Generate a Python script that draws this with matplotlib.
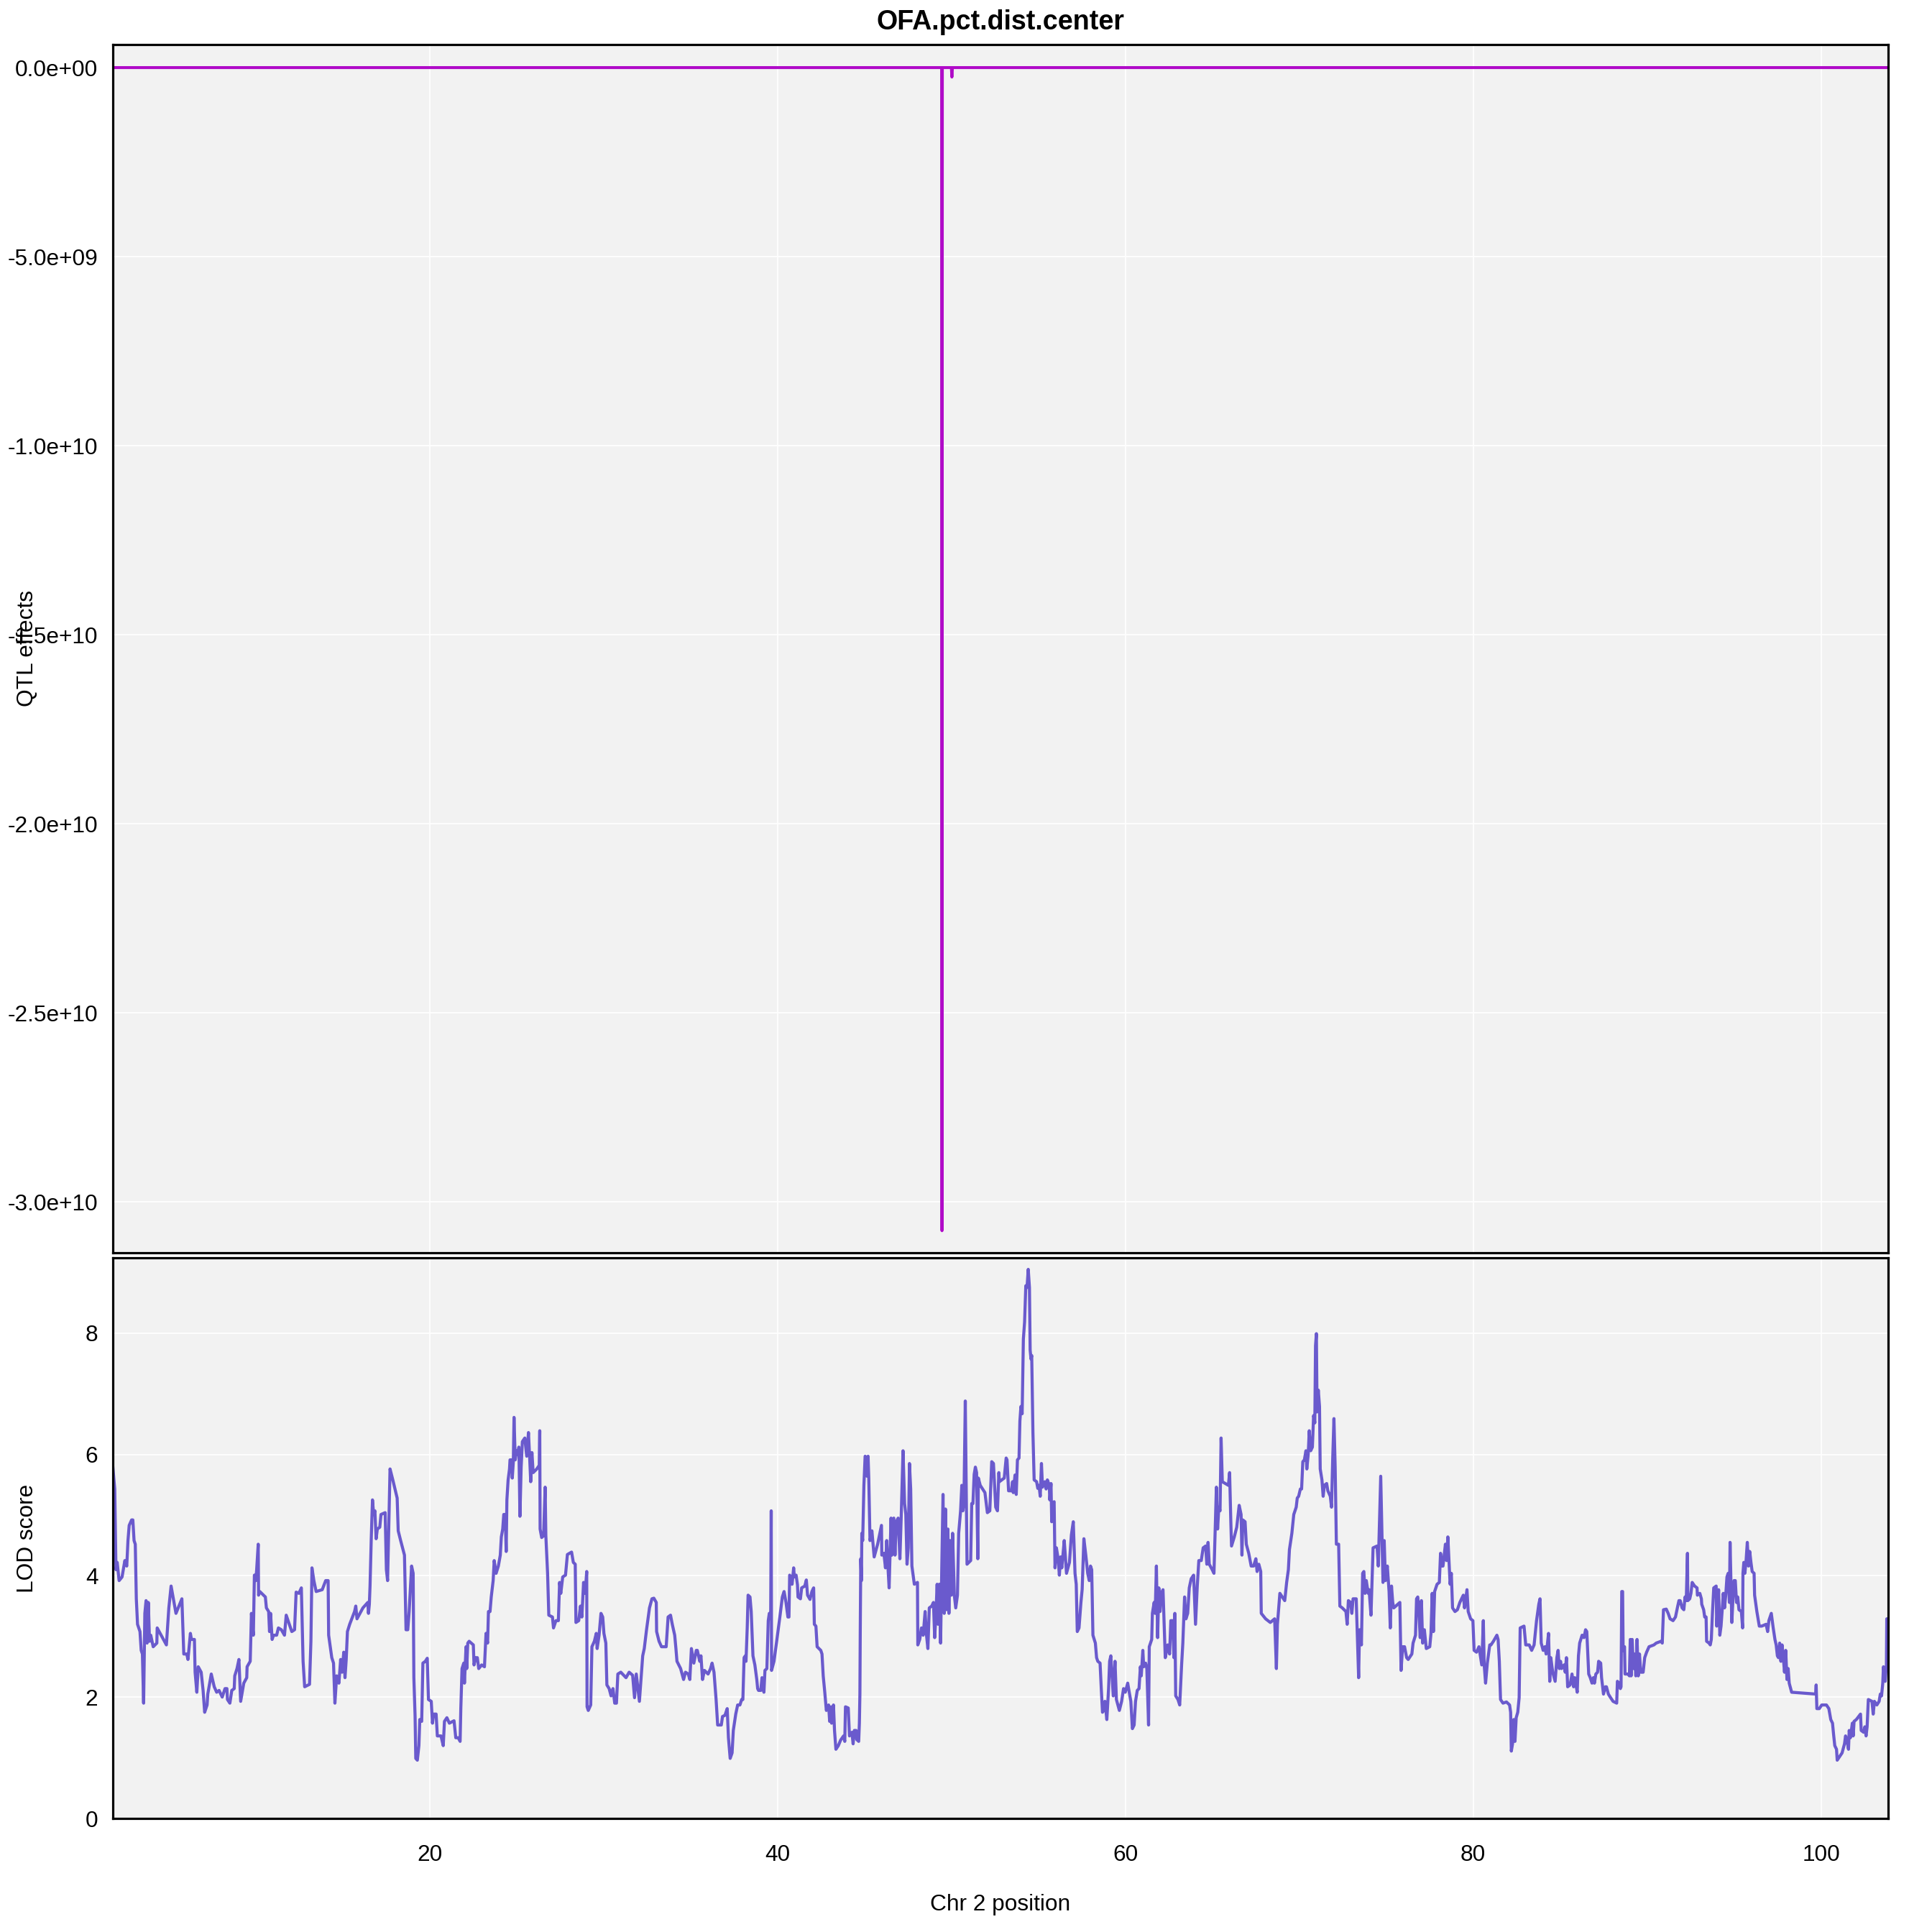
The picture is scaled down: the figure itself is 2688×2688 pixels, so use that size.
import matplotlib
matplotlib.use("Agg")
import matplotlib.pyplot as plt
from matplotlib.ticker import FuncFormatter

plt.rcParams["font.family"] = ["Liberation Sans", "DejaVu Sans"]

# LOD profile along chr 2 (cM, LOD)
pos = [
    1.77, 1.88, 1.95, 2.02, 2.13, 2.30, 2.46, 2.57, 2.64, 2.71, 2.85, 2.92, 2.99, 3.06, 3.12, 3.19, 3.33, 3.40,
    3.47, 3.54, 3.61, 3.68, 3.74, 3.81, 3.88, 3.95, 4.09, 4.30, 4.32, 4.85, 4.99, 5.12, 5.40, 5.74, 5.85, 6.02,
    6.09, 6.23, 6.29, 6.46, 6.50, 6.60, 6.68, 6.85, 6.96, 7.05, 7.19, 7.23, 7.43, 7.60, 7.74, 7.88, 8.06, 8.22,
    8.33, 8.36, 8.50, 8.61, 8.75, 8.78, 8.91, 9.02, 9.12, 9.30, 9.47, 9.49, 9.67, 9.71, 9.74, 9.85, 9.91, 9.99,
    10.04, 10.13, 10.15, 10.22, 10.54, 10.60, 10.73, 10.78, 10.84, 10.93, 11.01, 11.19, 11.29, 11.46, 11.64,
    11.74, 11.92, 12.06, 12.22, 12.31, 12.47, 12.61, 12.71, 12.80, 13.08, 13.16, 13.22, 13.33, 13.46, 13.81,
    14.01, 14.15, 14.18, 14.36, 14.46, 14.54, 14.64, 14.77, 14.87, 14.95, 15.05, 15.12, 15.19, 15.26, 15.39,
    15.67, 15.74, 15.81, 16.15, 16.43, 16.47, 16.52, 16.56, 16.63, 16.70, 16.77, 16.84, 16.91, 16.98, 17.12,
    17.19, 17.43, 17.50, 17.57, 17.71, 17.87, 18.12, 18.18, 18.32, 18.54, 18.63, 18.73, 18.81, 18.95, 19.04,
    19.08, 19.15, 19.19, 19.28, 19.37, 19.42, 19.53, 19.60, 19.74, 19.85, 19.92, 20.08, 20.15, 20.22, 20.36,
    20.43, 20.64, 20.77, 20.84, 20.98, 21.12, 21.39, 21.49, 21.63, 21.74, 21.78, 21.85, 21.95, 21.99, 22.08,
    22.12, 22.18, 22.26, 22.50, 22.54, 22.63, 22.73, 22.81, 22.98, 23.14, 23.23, 23.32, 23.37, 23.46, 23.53,
    23.64, 23.70, 23.81, 23.94, 24.05, 24.11, 24.19, 24.25, 24.33, 24.39, 24.43, 24.50, 24.58, 24.61, 24.70,
    24.74, 24.80, 24.84, 24.91, 24.98, 25.05, 25.12, 25.18, 25.25, 25.32, 25.46, 25.57, 25.67, 25.74, 25.80,
    25.87, 25.94, 26.15, 26.29, 26.32, 26.34, 26.43, 26.54, 26.63, 26.67, 26.77, 26.84, 27.05, 27.11, 27.25,
    27.39, 27.46, 27.53, 27.64, 27.80, 27.91, 28.15, 28.25, 28.36, 28.40, 28.56, 28.66, 28.74, 28.84, 28.93,
    29.02, 29.04, 29.11, 29.25, 29.32, 29.46, 29.57, 29.62, 29.73, 29.84, 29.94, 30.01, 30.12, 30.18, 30.31,
    30.42, 30.53, 30.63, 30.73, 30.81, 30.98, 31.18, 31.28, 31.46, 31.66, 31.77, 31.87, 32.05, 32.15, 32.24,
    32.33, 32.46, 32.63, 32.77, 32.88, 33.02, 33.04, 33.18, 33.32, 33.59, 33.70, 33.84, 33.94, 34.08, 34.15,
    34.21, 34.42, 34.59, 34.70, 34.86, 34.95, 35.04, 35.18, 35.32, 35.38, 35.45, 35.52, 35.59, 35.68, 35.79,
    36.00, 36.14, 36.23, 36.34, 36.46, 36.55, 36.76, 36.83, 36.97, 37.10, 37.17, 37.27, 37.38, 37.45, 37.59,
    37.70, 37.83, 37.93, 38.00, 38.07, 38.14, 38.18, 38.25, 38.30, 38.41, 38.48, 38.58, 38.69, 38.80, 38.85,
    38.90, 39.03, 39.10, 39.21, 39.27, 39.38, 39.46, 39.52, 39.60, 39.63, 39.65, 39.79, 39.93, 40.14, 40.27,
    40.37, 40.48, 40.59, 40.65, 40.69, 40.76, 40.83, 40.92, 40.96, 41.06, 41.14, 41.17, 41.31, 41.38, 41.56,
    41.65, 41.72, 41.86, 41.97, 42.07, 42.11, 42.20, 42.27, 42.48, 42.55, 42.62, 42.71, 42.80, 42.93, 42.99,
    43.04, 43.10, 43.21, 43.27, 43.35, 43.49, 43.62, 43.79, 43.86, 43.90, 44.06, 44.13, 44.27, 44.34, 44.41,
    44.51, 44.55, 44.66, 44.70, 44.73, 44.75, 44.78, 44.82, 44.84, 44.89, 44.96, 45.03, 45.10, 45.14, 45.20,
    45.24, 45.31, 45.42, 45.55, 45.75, 45.97, 45.99, 46.11, 46.20, 46.27, 46.34, 46.41, 46.52, 46.57, 46.68,
    46.75, 46.82, 46.93, 47.03, 47.10, 47.21, 47.30, 47.37, 47.44, 47.51, 47.58, 47.65, 47.72, 47.86, 48.04,
    48.06, 48.17, 48.27, 48.37, 48.48, 48.55, 48.64, 48.72, 48.86, 48.96, 49.03, 49.10, 49.17, 49.23, 49.30,
    49.37, 49.44, 49.51, 49.58, 49.65, 49.72, 49.79, 49.85, 49.92, 49.99, 50.06, 50.16, 50.24, 50.34, 50.41,
    50.52, 50.59, 50.65, 50.71, 50.79, 50.89, 51.10, 51.16, 51.23, 51.30, 51.37, 51.44, 51.51, 51.54, 51.65,
    51.92, 52.06, 52.20, 52.31, 52.41, 52.54, 52.64, 52.72, 52.75, 53.03, 53.14, 53.19, 53.28, 53.44, 53.51,
    53.55, 53.65, 53.72, 53.79, 53.88, 53.93, 53.99, 54.06, 54.10, 54.13, 54.20, 54.27, 54.34, 54.41, 54.48,
    54.52, 54.57, 54.61, 54.68, 54.75, 54.89, 54.96, 55.03, 55.10, 55.17, 55.23, 55.37, 55.44, 55.51, 55.62,
    55.65, 55.72, 55.76, 55.81, 55.90, 55.95, 56.03, 56.13, 56.20, 56.27, 56.34, 56.48, 56.54, 56.61, 56.78,
    56.89, 57.00, 57.10, 57.17, 57.23, 57.33, 57.44, 57.51, 57.61, 57.72, 57.83, 57.92, 57.99, 58.06, 58.13,
    58.27, 58.34, 58.41, 58.54, 58.61, 58.68, 58.75, 58.82, 58.93, 59.03, 59.09, 59.16, 59.30, 59.40, 59.48,
    59.65, 59.78, 59.89, 59.99, 60.13, 60.20, 60.31, 60.40, 60.50, 60.58, 60.68, 60.78, 60.86, 60.91, 61.00,
    61.05, 61.16, 61.23, 61.33, 61.37, 61.51, 61.55, 61.65, 61.71, 61.78, 61.85, 61.92, 61.99, 62.06, 62.16,
    62.29, 62.43, 62.54, 62.61, 62.71, 62.79, 62.84, 62.89, 63.02, 63.12, 63.23, 63.30, 63.40, 63.48, 63.58,
    63.67, 63.78, 63.92, 64.03, 64.13, 64.22, 64.36, 64.47, 64.61, 64.68, 64.75, 64.82, 64.99, 65.09, 65.16,
    65.23, 65.30, 65.37, 65.44, 65.50, 65.57, 65.92, 65.99, 66.06, 66.10, 66.26, 66.40, 66.54, 66.65, 66.70,
    66.75, 66.88, 66.95, 67.09, 67.23, 67.37, 67.50, 67.57, 67.67, 67.78, 67.81, 68.06, 68.33, 68.58, 68.68,
    68.74, 68.88, 69.16, 69.27, 69.37, 69.43, 69.57, 69.68, 69.82, 69.88, 69.96, 70.06, 70.13, 70.20, 70.29,
    70.38, 70.43, 70.51, 70.57, 70.65, 70.75, 70.82, 70.89, 70.93, 70.98, 71.02, 71.09, 71.16, 71.20, 71.30,
    71.37, 71.44, 71.57, 71.64, 71.78, 71.85, 71.92, 71.99, 72.06, 72.13, 72.26, 72.33, 72.47, 72.68, 72.75,
    72.82, 72.95, 73.02, 73.09, 73.27, 73.33, 73.41, 73.46, 73.57, 73.64, 73.71, 73.78, 73.85, 73.96, 74.01,
    74.12, 74.24, 74.47, 74.54, 74.61, 74.68, 74.75, 74.81, 74.88, 74.95, 75.06, 75.16, 75.23, 75.30, 75.37,
    75.43, 75.78, 75.85, 75.94, 76.05, 76.17, 76.26, 76.47, 76.54, 76.68, 76.74, 76.81, 76.88, 76.95, 77.02,
    77.09, 77.19, 77.30, 77.50, 77.57, 77.64, 77.71, 77.78, 77.92, 78.05, 78.12, 78.19, 78.26, 78.40, 78.47,
    78.54, 78.67, 78.74, 78.81, 78.95, 79.09, 79.23, 79.43, 79.50, 79.64, 79.71, 79.85, 79.98, 80.05, 80.19,
    80.33, 80.49, 80.58, 80.63, 80.71, 80.81, 80.95, 81.02, 81.16, 81.36, 81.43, 81.50, 81.57, 81.71, 81.91,
    82.09, 82.15, 82.19, 82.26, 82.33, 82.40, 82.47, 82.56, 82.64, 82.70, 82.92, 83.02, 83.22, 83.36, 83.50,
    83.64, 83.77, 83.84, 83.91, 84.02, 84.12, 84.19, 84.26, 84.33, 84.40, 84.46, 84.57, 84.71, 84.81, 84.88,
    84.95, 85.02, 85.08, 85.22, 85.29, 85.36, 85.43, 85.57, 85.68, 85.77, 85.84, 85.98, 86.05, 86.12, 86.26,
    86.37, 86.46, 86.53, 86.64, 86.73, 86.83, 86.91, 86.97, 87.05, 87.15, 87.21, 87.33, 87.38, 87.49, 87.60,
    87.66, 87.77, 87.90, 88.04, 88.25, 88.29, 88.39, 88.46, 88.50, 88.54, 88.59, 88.62, 88.70, 88.73, 88.90,
    88.98, 89.03, 89.08, 89.14, 89.21, 89.28, 89.35, 89.42, 89.49, 89.56, 89.63, 89.77, 89.86, 89.97, 90.11,
    90.39, 90.52, 90.80, 90.87, 90.94, 91.10, 91.21, 91.32, 91.49, 91.63, 91.76, 91.83, 91.90, 92.01, 92.11,
    92.18, 92.25, 92.32, 92.34, 92.45, 92.52, 92.59, 92.73, 92.87, 92.89, 93.03, 93.12, 93.14, 93.25, 93.31,
    93.39, 93.42, 93.56, 93.63, 93.69, 93.76, 93.83, 93.97, 94.00, 94.11, 94.18, 94.25, 94.31, 94.38, 94.45,
    94.52, 94.59, 94.66, 94.73, 94.77, 94.82, 94.87, 94.93, 95.00, 95.07, 95.14, 95.21, 95.28, 95.42, 95.49,
    95.51, 95.56, 95.62, 95.69, 95.76, 95.83, 95.90, 95.97, 96.04, 96.15, 96.18, 96.31, 96.45, 96.59, 96.84,
    96.93, 97.00, 97.14, 97.25, 97.35, 97.42, 97.49, 97.55, 97.62, 97.69, 97.76, 97.83, 97.90, 97.97, 98.04,
    98.11, 98.17, 98.31, 99.69, 99.72, 99.76, 99.90, 100.04, 100.31, 100.45, 100.56, 100.66, 100.72, 100.79,
    100.89, 100.93, 101.07, 101.21, 101.35, 101.41, 101.48, 101.58, 101.62, 101.69, 101.80, 101.85, 101.90,
    102.03, 102.27, 102.31, 102.45, 102.52, 102.59, 102.65, 102.72, 102.93, 103.00, 103.07, 103.21, 103.34,
    103.41, 103.48, 103.55, 103.59, 103.69, 103.76, 103.78, 103.86,
]
lod = [
    5.79, 5.43, 4.10, 4.22, 3.92, 3.98, 4.25, 4.16, 4.58, 4.83, 4.92, 4.92, 4.58, 4.52, 3.62, 3.20, 3.08, 2.77,
    2.71, 1.90, 3.38, 3.59, 2.89, 3.56, 2.92, 3.02, 2.83, 2.89, 3.14, 2.86, 3.47, 3.83, 3.38, 3.62, 2.71, 2.71,
    2.62, 3.05, 2.95, 2.95, 2.41, 2.08, 2.50, 2.41, 2.11, 1.75, 1.87, 2.05, 2.38, 2.17, 2.08, 2.11, 2.00, 2.14,
    2.14, 1.96, 1.90, 2.11, 2.14, 2.35, 2.47, 2.62, 1.93, 2.23, 2.32, 2.50, 2.59, 3.02, 3.38, 3.02, 4.01, 3.92,
    4.10, 4.52, 3.68, 3.74, 3.65, 3.47, 3.41, 3.08, 3.38, 2.95, 3.02, 3.02, 3.14, 3.11, 3.02,
    3.35, 3.20, 3.08, 3.11, 3.73, 3.71, 3.80, 2.59, 2.17, 2.21, 2.92, 4.13, 3.92, 3.74, 3.77,
    3.92, 3.92, 3.02, 2.65, 2.56, 1.90, 2.35, 2.23, 2.62, 2.41, 2.74, 2.32, 2.62, 3.08, 3.20,
    3.41, 3.50, 3.29, 3.47, 3.56, 3.38, 3.53, 3.83, 4.61, 5.25, 5.01, 5.07, 4.61, 4.77, 4.80,
    5.01, 5.04, 4.10, 3.92, 5.76, 5.58, 5.28, 4.74, 4.58, 4.34, 3.11, 3.11, 3.41, 4.16, 4.04,
    2.32, 1.69, 0.99, 0.96, 1.20, 1.63, 1.60, 2.56, 2.59, 2.64, 1.96, 1.93, 1.57, 1.72, 1.72,
    1.36, 1.36, 1.20, 1.60, 1.66, 1.57, 1.61, 1.33, 1.33, 1.27, 1.81, 2.47, 2.56, 2.23, 2.83,
    2.47, 2.89, 2.92, 2.86, 2.53, 2.65, 2.65, 2.47, 2.53, 2.50, 3.05, 2.89, 3.41, 3.41, 3.65,
    3.92, 4.25, 4.04, 4.16, 4.34, 4.64, 4.77, 5.01, 5.01, 4.40, 5.25, 5.58, 5.76, 5.91, 5.91,
    5.61, 5.88, 6.61, 5.91, 6.06, 6.00, 6.12, 4.98, 5.79, 6.21, 6.27, 5.97, 6.36, 5.94, 5.55,
    6.03, 5.70, 5.76, 5.82, 6.39, 4.77, 4.63, 4.66, 5.46, 4.66, 4.04, 3.35, 3.32, 3.14, 3.26,
    3.26, 3.89, 3.71, 3.98, 4.01, 4.35, 4.39, 4.22, 4.19, 3.23, 3.26, 3.50, 3.32, 3.89, 3.71,
    4.07, 1.84, 1.78, 1.87, 2.83, 2.92, 3.05, 2.80, 3.02, 3.38, 3.32, 3.05, 2.89, 2.20, 2.14,
    2.02, 2.14, 1.90, 1.90, 2.38, 2.41, 2.35, 2.32, 2.41, 2.36, 1.99, 2.38, 1.93, 2.32, 2.68,
    2.80, 3.11, 3.47, 3.62, 3.63, 3.56, 3.08, 2.92, 2.83, 2.83, 3.32, 3.35, 3.20, 3.02, 2.80,
    2.59, 2.47, 2.29, 2.41, 2.38, 2.29, 2.80, 2.56, 2.77, 2.77, 2.68, 2.59, 2.68, 2.29, 2.44,
    2.38, 2.47, 2.56, 2.41, 1.96, 1.54, 1.54, 1.68, 1.70, 1.81, 1.33, 0.99, 1.08, 1.45, 1.72,
    1.87, 1.87, 1.96, 1.96, 2.65, 2.68, 2.59, 3.14, 3.68, 3.65, 3.41, 2.68, 2.53, 2.29, 2.14,
    2.11, 2.11, 2.32, 2.08, 2.44, 2.47, 3.26, 3.38, 3.38, 5.07, 2.44, 2.59, 2.89, 3.35, 3.65,
    3.74, 3.56, 3.32, 3.32, 4.01, 3.98, 3.86, 4.13, 3.98, 4.01, 3.85, 3.65, 3.62, 3.80, 3.83,
    3.93, 3.68, 3.61, 3.74, 3.80, 3.20, 3.17, 2.83, 2.77, 2.71, 2.35, 2.08, 1.78, 1.87, 1.60,
    1.84, 1.57, 1.87, 1.45, 1.14, 1.20, 1.29, 1.36, 1.27, 1.84, 1.82, 1.36, 1.42, 1.23, 1.45,
    1.45, 1.30, 1.27, 1.57, 2.05, 3.08, 4.28, 3.92, 4.70, 4.58, 5.49, 5.97, 5.94, 5.64, 5.97,
    5.61, 4.58, 4.74, 4.31, 4.52, 4.83, 4.34, 4.37, 4.13, 4.58, 4.16, 3.80, 4.95, 4.34, 4.95,
    4.34, 4.89, 4.95, 4.28, 4.92, 6.06, 5.19, 5.01, 4.19, 4.46, 5.85, 5.43, 4.16, 3.86, 3.89,
    2.86, 2.95, 3.14, 3.02, 3.41, 3.05, 2.80, 3.47, 3.50, 3.56, 2.98, 3.35, 3.86, 3.20, 3.86,
    2.89, 4.16, 5.34, 3.38, 5.10, 3.44, 4.77, 3.38, 4.58, 3.68, 4.70, 3.68, 3.47, 3.68, 4.70,
    5.07, 5.49, 5.07, 5.19, 6.88, 4.19, 4.25, 5.19, 5.19, 5.67, 5.79, 5.70, 4.28, 5.61, 5.49,
    5.37, 5.04, 5.07, 5.88, 5.85, 5.13, 5.07, 5.70, 5.55, 5.61, 5.94, 5.91, 5.40, 5.40, 5.55,
    5.37, 5.66, 5.34, 5.91, 5.94, 6.55, 6.79, 6.67, 7.39, 7.90, 8.18, 8.78, 8.75, 9.05, 8.75,
    7.72, 7.57, 7.63, 6.36, 5.58, 5.55, 5.44, 5.49, 5.31, 5.85, 5.46, 5.55, 5.43, 5.58, 5.49,
    5.25, 5.52, 4.89, 5.19, 5.22, 4.13, 4.46, 4.28, 4.01, 4.31, 4.13, 4.58, 4.34, 4.04, 4.22,
    4.67, 4.89, 4.04, 3.86, 3.08, 3.14, 3.56, 3.77, 4.61, 4.34, 4.04, 3.92, 4.16, 4.10, 3.02,
    2.89, 2.65, 2.59, 2.56, 2.14, 1.75, 1.78, 1.93, 1.63, 2.14, 2.59, 2.68, 2.02, 2.59, 1.96,
    1.78, 1.93, 2.14, 2.08, 2.23, 2.11, 1.93, 1.48, 1.54, 1.93, 2.11, 2.14, 2.50, 2.35, 2.77,
    2.50, 2.56, 2.47, 1.54, 2.83, 2.95, 3.38, 3.56, 3.38, 4.16, 2.98, 3.80, 3.41, 3.71, 3.77,
    2.65, 2.86, 2.71, 3.26, 3.26, 2.65, 3.38, 2.02, 1.96, 1.87, 2.53, 2.89, 3.65, 3.29, 3.38,
    3.80, 3.95, 4.01, 3.20, 3.83, 4.25, 4.25, 4.46, 4.49, 4.19, 4.55, 4.19, 4.10, 4.04, 4.74,
    5.46, 4.77, 5.13, 5.07, 6.27, 5.55, 5.49, 5.70, 4.89, 4.49, 4.64, 4.80, 5.16, 5.01, 4.34,
    4.92, 4.89, 4.52, 4.37, 4.16, 4.16, 4.28, 4.07, 4.19, 4.07, 3.38, 3.29, 3.23, 3.29, 2.47,
    3.20, 3.71, 3.59, 3.89, 4.10, 4.43, 4.70, 5.01, 5.13, 5.28, 5.31, 5.43, 5.43, 5.88, 5.91,
    6.06, 5.76, 6.00, 6.39, 6.06, 6.12, 6.64, 6.52, 7.79, 7.99, 6.70, 7.06, 6.79, 5.76, 5.58,
    5.31, 5.49, 5.52, 5.40, 5.31, 5.13, 5.94, 6.59, 5.79, 4.52, 4.52, 3.50, 3.47, 3.41, 3.20,
    3.59, 3.56, 3.38, 3.62, 3.62, 3.08, 2.32, 3.11, 2.86, 4.04, 4.07, 3.71, 3.92, 3.71, 3.77,
    3.35, 4.46, 4.49, 4.16, 4.89, 5.64, 4.70, 3.89, 4.58, 3.92, 4.16, 3.74, 3.14, 3.83, 3.56,
    3.47, 3.56, 2.44, 2.83, 2.83, 2.65, 2.62, 2.71, 2.89, 3.02, 3.62, 3.65, 3.38, 2.98, 3.59,
    2.89, 3.11, 2.80, 2.83, 3.05, 3.71, 3.08, 3.74, 3.86, 3.89, 4.37, 4.16, 4.16, 4.52, 4.25,
    4.64, 3.86, 4.04, 3.47, 3.41, 3.44, 3.56, 3.68, 3.47, 3.77, 3.41, 3.29, 3.26, 2.77, 2.74,
    2.83, 2.53, 3.26, 2.53, 2.23, 2.56, 2.86, 2.86, 2.92, 3.02, 2.95, 2.59, 1.96, 1.90, 1.92,
    1.87, 1.75, 1.11, 1.23, 1.63, 1.27, 1.66, 1.75, 1.99, 3.14, 3.17, 2.86, 2.86, 2.77, 2.86,
    3.26, 3.53, 3.62, 2.89, 2.77, 2.83, 2.71, 2.86, 3.05, 2.26, 2.65, 2.41, 2.26, 2.65, 2.77,
    2.47, 2.59, 2.47, 2.53, 2.41, 2.65, 2.17, 2.20, 2.38, 2.17, 2.32, 2.08, 2.68, 2.89, 3.02,
    2.98, 3.11, 3.08, 2.38, 2.32, 2.23, 2.32, 2.23, 2.38, 2.41, 2.59, 2.56, 2.32, 2.05, 2.17,
    2.17, 2.05, 1.99, 1.93, 1.90, 2.26, 2.23, 2.14, 2.17, 3.74, 3.74, 2.77, 2.83, 2.38, 2.38,
    2.35, 2.95, 2.35, 2.95, 2.47, 2.71, 2.35, 2.95, 2.35, 2.71, 2.41, 2.41, 2.65, 2.74, 2.83,
    2.86, 2.89, 2.92, 2.89, 3.44, 3.45, 3.38, 3.29, 3.26, 3.32, 3.50, 3.59, 3.59, 3.47, 3.44,
    3.65, 3.59, 4.37, 3.59, 3.62, 3.71, 3.89, 3.83, 3.80, 3.68, 3.71, 3.62, 3.53, 3.44, 3.32,
    3.32, 2.92, 2.89, 2.86, 2.95, 3.41, 3.80, 3.83, 3.17, 3.77, 3.02, 3.17, 3.41, 3.71, 3.47,
    3.68, 3.98, 4.04, 3.56, 4.55, 3.89, 3.23, 3.59, 3.92, 3.92, 3.56, 3.65, 3.44, 3.41, 3.14,
    4.04, 4.22, 4.04, 4.25, 4.55, 4.16, 4.40, 4.22, 4.07, 4.04, 3.68, 3.41, 3.17, 3.17, 3.20,
    3.08, 3.26, 3.38, 3.14, 2.95, 2.86, 2.68, 2.65, 2.89, 2.59, 2.86, 2.65, 2.41, 2.77, 2.29,
    2.47, 2.23, 2.08, 2.05, 2.20, 1.81, 1.81, 1.87, 1.87, 1.81, 1.63, 1.57, 1.39, 1.20,
    1.14, 0.96, 1.02, 1.08, 1.23, 1.36, 1.30, 1.14, 1.45, 1.33, 1.57, 1.36, 1.60,
    1.63, 1.72, 1.45, 1.42, 1.51, 1.36, 1.51, 1.96, 1.93, 1.72, 1.93, 1.87, 1.93,
    2.05, 2.02, 2.23, 2.50, 2.26, 2.53, 3.29, 3.29,
]

# QTL effect estimate: flat at zero apart from two artefacts near 49-50 cM
eff_pos = [1.77, 49.43, 49.45, 49.47, 49.99, 50.02, 50.05, 103.86]
eff = [0.0, 0.0, -3.076e10, 0.0, 0.0, -2.5e8, 0.0, 0.0]

title = "OFA.pct.dist.center"
lod_ticks = [0, 2, 4, 6, 8]
eff_ticks = [0, -5e9, -1e10, -1.5e10, -2e10, -2.5e10, -3e10]
x_ticks = [20, 40, 60, 80, 100]

W = 2688
fig = plt.figure(figsize=(10.5, 10.5), dpi=256)
left, right = 157 / W, 2627 / W
ax1 = fig.add_axes([left, 1 - 1743 / W, right - left, (1743 - 62) / W])
ax2 = fig.add_axes([left, 1 - 2530 / W, right - left, (2530 - 1750) / W])

fs = 8.9
for ax in (ax1, ax2):
    ax.set_facecolor("#F2F2F2")
    ax.grid(True, color="white", linewidth=0.5)
    ax.set_axisbelow(True)
    for s in ax.spines.values():
        s.set_color("black")
        s.set_linewidth(0.9)
    ax.tick_params(length=0, labelsize=fs, colors="black")
    ax.set_xlim(pos[0], pos[-1])
    ax.set_xticks(x_ticks)

ax1.plot(eff_pos, eff, color="#B00BC8", linewidth=1.15)
span = 0 - min(eff)
ax1.set_ylim(min(eff) - 0.019 * span, 0.0198 * span)
ax1.set_yticks(eff_ticks)
ax1.yaxis.set_major_formatter(FuncFormatter(lambda v, p: f"{v:.1e}"))
ax1.tick_params(axis="x", labelbottom=False)
ax1.tick_params(axis="y", pad=5.8)

ax2.plot(pos, lod, color="#6A5ACD", linewidth=1.2)
ax2.set_ylim(0, max(lod) * 1.021)
ax2.set_yticks(lod_ticks)
ax2.tick_params(axis="y", pad=5.8)
ax2.tick_params(axis="x", pad=10)

fig.text(0.5 * (left + right), 1 - 31 / W, title, ha="center", va="center",
         fontsize=10.6, fontweight="bold")
fig.text(0.5 * (left + right), 1 - 2650 / W, "Chr 2 position", ha="center", va="center", fontsize=fs)
fig.text(38 / W, 1 - 902 / W, "QTL effects", rotation=90, ha="center", va="center", fontsize=fs)
fig.text(38 / W, 1 - 2140 / W, "LOD score", rotation=90, ha="center", va="center", fontsize=fs)

fig.savefig("out.png", dpi=256)
